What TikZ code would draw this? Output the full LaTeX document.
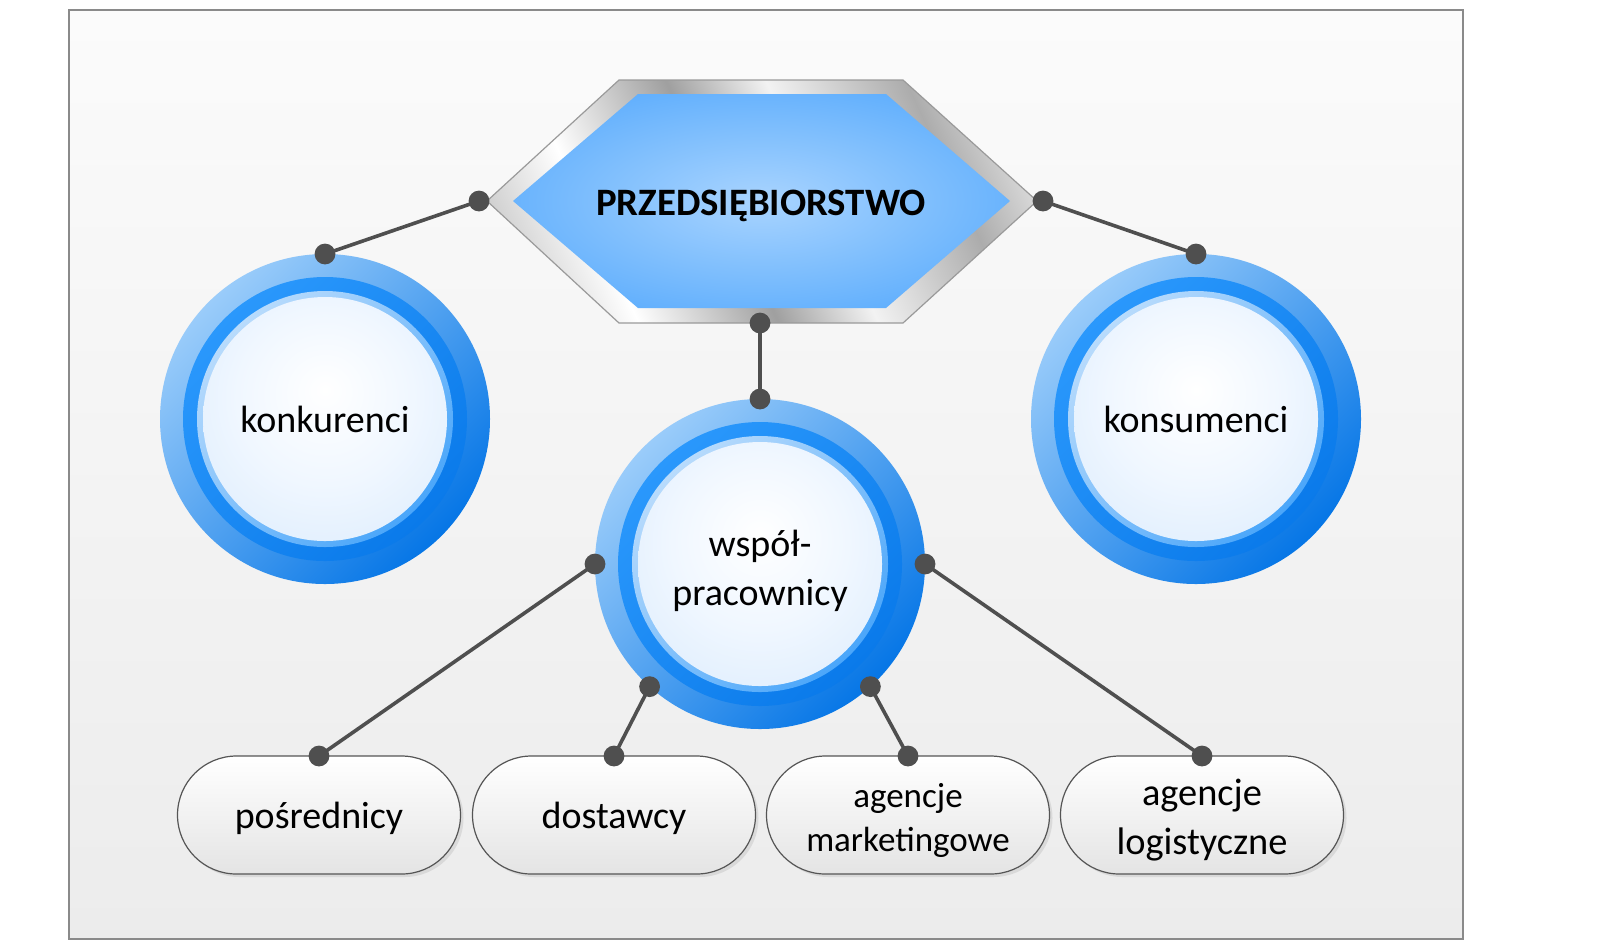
\documentclass[tikz,border=0pt]{standalone}
\usepackage{fontspec}
\setmainfont{Carlito}
\usetikzlibrary{shapes.misc,shadows}
\definecolor{bgA}{HTML}{FBFBFB}
\definecolor{bgB}{HTML}{ECECEC}
\definecolor{framec}{HTML}{8A8A8A}
\definecolor{ringA}{HTML}{9ACCFA}
\definecolor{ringB}{HTML}{0676E6}
\definecolor{ringC}{HTML}{2A98FC}
\definecolor{ringD}{HTML}{0A7AEA}
\definecolor{ringE}{HTML}{B8DBFC}
\definecolor{ringF}{HTML}{4AA6FA}
\definecolor{diskA}{HTML}{F0F7FF}
\definecolor{diskB}{HTML}{DCECFD}
\definecolor{diskC}{HTML}{BFDDFB}
\definecolor{hexA}{HTML}{A9D4FE}
\definecolor{hexB}{HTML}{2A93FC}
\definecolor{hexedge}{HTML}{9A9A9A}
\definecolor{pillB}{HTML}{E4E4E4}
\definecolor{pillline}{HTML}{555555}
\definecolor{linkc}{HTML}{4F4F4F}
\pgfdeclarehorizontalshading{metal}{100bp}{color(0bp)=(white); color(18bp)=(gray!55); color(32bp)=(white); color(46bp)=(gray!75); color(56bp)=(white!90!gray); color(70bp)=(gray!65); color(84bp)=(white); color(100bp)=(gray!55)}
\pgfdeclareradialshading{hexglow}{\pgfpoint{0bp}{0bp}}{color(0bp)=(hexA); color(50bp)=(hexB); color(75bp)=(hexB)}
\pgfdeclareradialshading{diskglow}{\pgfpoint{0bp}{6bp}}{color(0bp)=(white); color(18bp)=(diskA); color(36bp)=(diskB); color(48bp)=(diskC); color(75bp)=(diskC)}
\newcommand\bluering[1]{%
  \shade[top color=ringA, bottom color=ringB, shading angle=45] (#1) circle[radius=82.5pt];
  \shade[top color=ringC, bottom color=ringD, shading angle=45] (#1) circle[radius=71pt];
  \shade[top color=ringE, bottom color=ringF, shading angle=45] (#1) circle[radius=64pt];
  \shade[shading=diskglow] (#1) circle[radius=61pt];
}
\begin{document}
\begin{tikzpicture}[x=0.5pt,y=-0.5pt,
  every node/.style={inner sep=0pt, outer sep=0pt},
  lbl/.style={font=\fontsize{19}{24.5}\selectfont, align=center, text=black},
  ring/.style={circle, minimum size=165pt},
  pill/.style={rounded rectangle, draw=pillline, line width=0.6pt,
    minimum width=141.5pt, minimum height=59pt,
    top color=white, bottom color=pillB,
    drop shadow={opacity=0.18, shadow xshift=1.5pt, shadow yshift=-1.5pt}},
  link/.style={draw=linkc, line width=1.8pt},
  dotc/.style={fill=linkc}]
\fill[white] (0,0) rectangle (1600,950);
\useasboundingbox (0,0) rectangle (1600,950);
% background frame
\shade[draw=framec, line width=0.6pt, top color=bgA, bottom color=bgB] (69,10) rectangle (1463,939);
% hexagon
\shade[shading=metal, shading angle=25] (487,201) -- (619,80) -- (903,80) -- (1037,201) -- (903,323) -- (619,323) -- cycle;
\draw[hexedge, line width=0.6pt] (487,201) -- (619,80) -- (903,80) -- (1037,201) -- (903,323) -- (619,323) -- cycle;
\shade[shading=hexglow] (513,201) -- (638,94) -- (886,94) -- (1010,201) -- (886,308) -- (638,308) -- cycle;
\node[lbl, font=\bfseries\fontsize{19.4}{24}\selectfont] (firm) at (761,206) {PRZEDSIĘBIORSTWO};
\coordinate (firmL) at (479,201);
\coordinate (firmR) at (1043,201);
\coordinate (firmB) at (760,323);
% rings
\bluering{325,419}
\node[ring, lbl] (konk) at (325,419) {konkurenci};
\bluering{1196,419}
\node[ring, lbl] (kons) at (1196,419) {konsumenci};
\bluering{760,564}
\node[ring] (wsp) at (760,564) {};
\node[lbl] (wsptxt) at (760,571) {współ-\\pracownicy};
% pills
\node[pill, lbl, text depth=0pt] (pos) at (319,815) {pośrednicy};
\node[pill, lbl, text depth=0pt] (dos) at (614,815) {dostawcy};
\node[pill, lbl, font=\fontsize{17.5}{22}\selectfont] (am) at (908,815) {};
\node[lbl, font=\fontsize{17.5}{22}\selectfont] (amtxt) at (908,820) {agencje\\marketingowe};
\node[pill, lbl] (al) at (1202,815) {};
\node[lbl, font=\fontsize{19.2}{24.5}\selectfont] (altxt) at (1202,820) {agencje\\logistyczne};
% connectors
\draw[link] (firmL) -- (konk.north);
\draw[link] (firmR) -- (kons.north);
\draw[link] (firmB) -- (wsp.north);
\draw[link] (wsp.west) -- (pos.north);
\draw[link] (wsp.-132) -- (dos.north);
\draw[link] (wsp.-48) -- (am.north);
\draw[link] (wsp.east) -- (al.north);
% dots
\foreach \p in {firmL,firmR,firmB,konk.north,kons.north,wsp.north,wsp.west,wsp.east,wsp.-132,wsp.-48,pos.north,dos.north,am.north,al.north}
  \fill[dotc] (\p) circle[radius=5.2pt];
\end{tikzpicture}
\end{document}
